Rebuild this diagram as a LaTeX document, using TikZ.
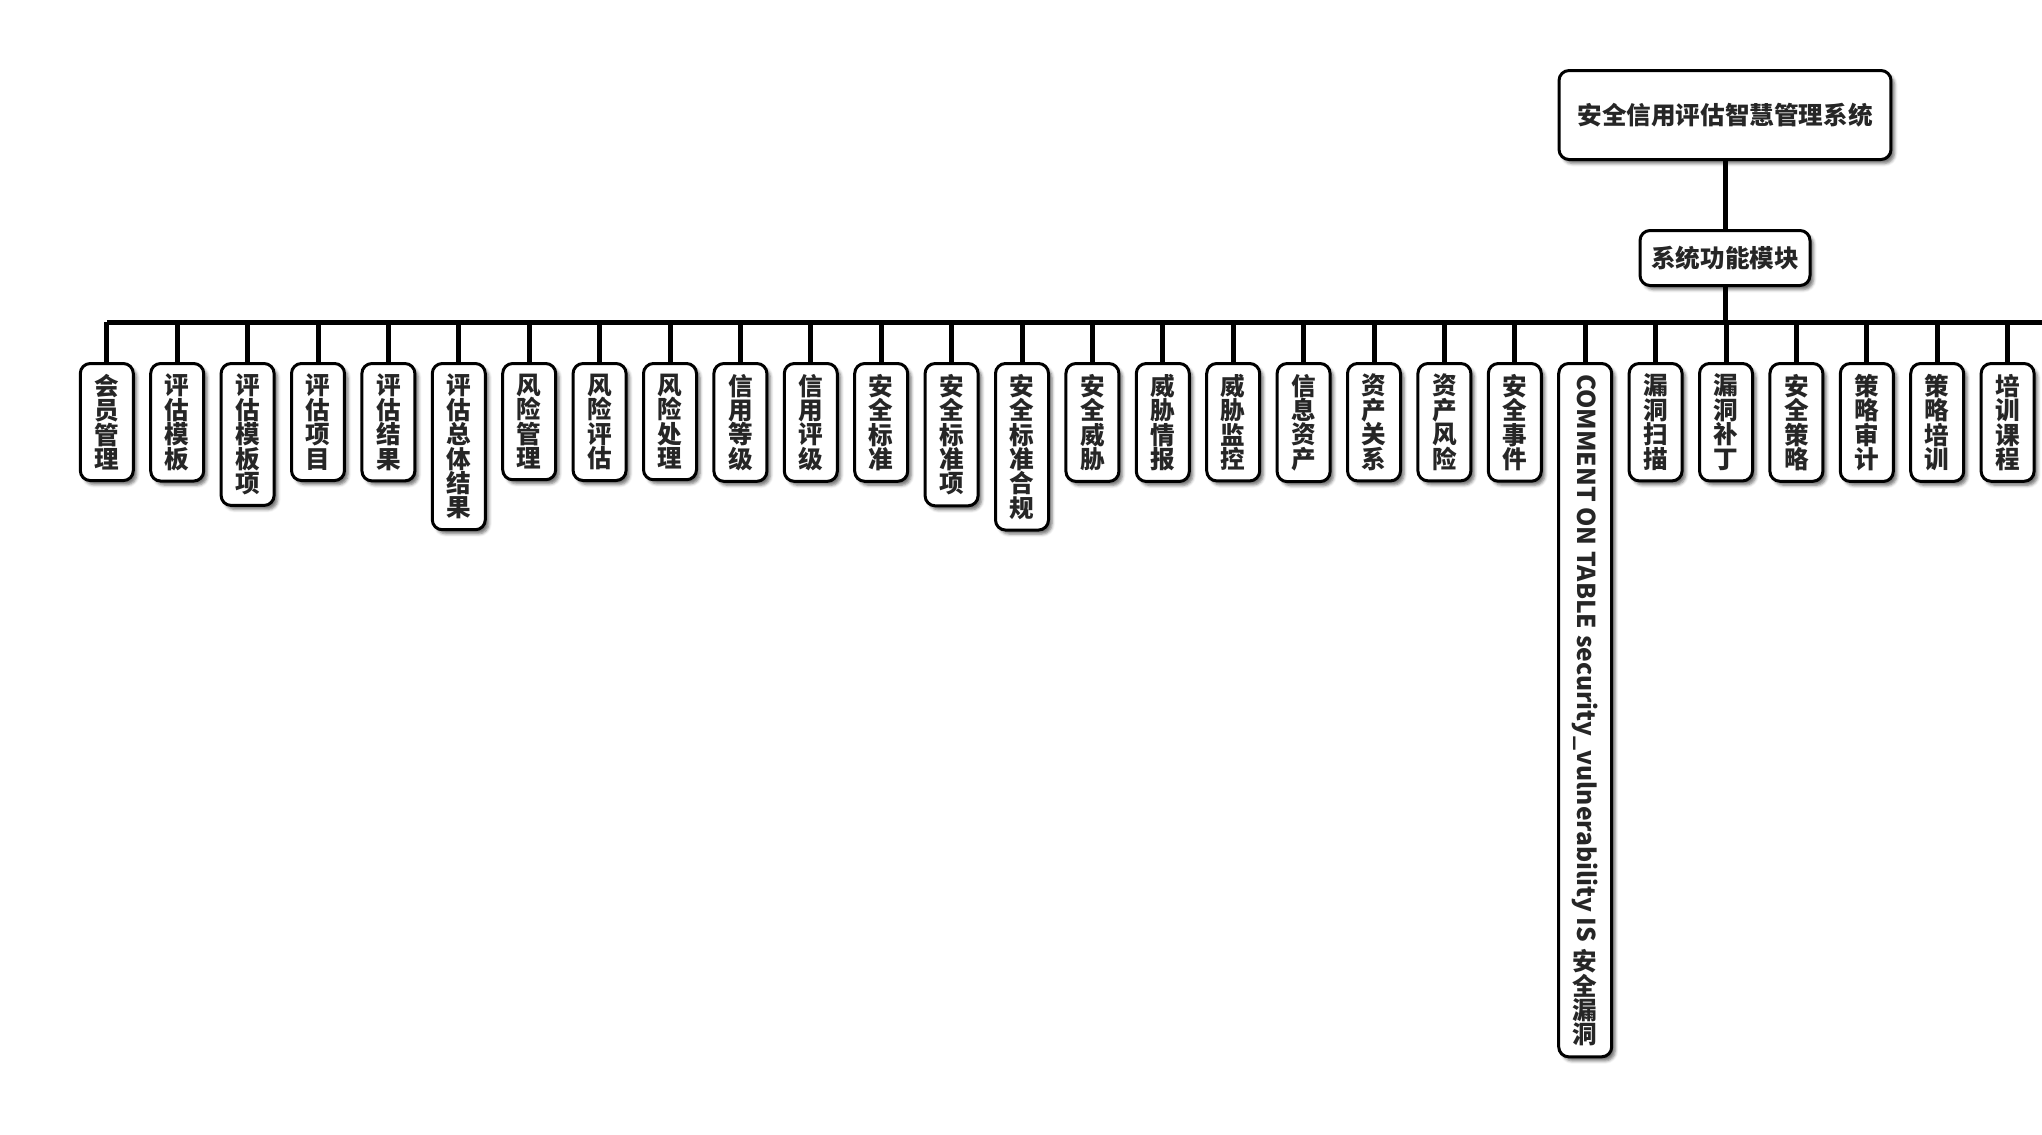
\documentclass[tikz,border=0pt]{standalone}
\usepackage{fontspec}
\newfontfamily\cjk{Noto Sans CJK SC}
\usetikzlibrary{shadows.blur}
\tikzset{
  box/.style={draw, line width=0.06cm, rounded corners=0.2cm, fill=white, text=black!85,
    font=\cjk\bfseries\fontsize{14pt}{13.9pt}\selectfont,
    blur shadow={shadow xshift=0.07cm, shadow yshift=-0.08cm, shadow blur radius=0.06cm, shadow opacity=55}},
  leaf/.style={box, anchor=north, minimum width=1.06cm, inner xsep=0pt, inner ysep=0.21cm, align=center},
  link/.style={line width=0.1cm}
}
\begin{document}
\begin{tikzpicture}[x=0.02cm, y=-0.02cm]
    \useasboundingbox (0,0) rectangle (2042,1134);
    % top of the tree
    \node[box, minimum width=6.64cm, minimum height=1.78cm] (root) at (1725,115) {安全信用评估智慧管理系统};
    \node[box, minimum width=3.4cm, minimum height=1.1cm] (mod) at (1725,258) {系统功能模块};
    % the modules
    \foreach \t [count=\i from 0] in {{会\\员\\管\\理}, {评\\估\\模\\板}, {评\\估\\模\\板\\项}, {评\\估\\项\\目},
        {评\\估\\结\\果}, {评\\估\\总\\体\\结\\果}, {风\\险\\管\\理}, {风\\险\\评\\估}, {风\\险\\处\\理},
        {信\\用\\等\\级}, {信\\用\\评\\级}, {安\\全\\标\\准}, {安\\全\\标\\准\\项}, {安\\全\\标\\准\\合\\规},
        {安\\全\\威\\胁}, {威\\胁\\情\\报}, {威\\胁\\监\\控}, {信\\息\\资\\产}, {资\\产\\关\\系},
        {资\\产\\风\\险}, {安\\全\\事\\件},
        {\rotatebox{-90}{COMMENT ON TABLE security\_vulnerability IS\ }\\安\\全\\漏\\洞},
        {漏\\洞\\扫\\描}, {漏\\洞\\补\\丁}, {安\\全\\策\\略}, {策\\略\\审\\计}, {策\\略\\培\\训}, {培\\训\\课\\程}}
        \node[leaf] (c\i) at (106.8+70.4*\i, 362) {\t};
    % connectors
    \coordinate (barL) at (106.8,322);
    \coordinate (barR) at (2042,322);
    \draw[link] (root) -- (mod);
    \draw[link] (mod) -- (mod |- barL);
    \draw[link] (barL) -- (barR);
    \foreach \i in {0,...,27}
        \draw[link] (c\i) -- (c\i |- barL);
\end{tikzpicture}
\end{document}
